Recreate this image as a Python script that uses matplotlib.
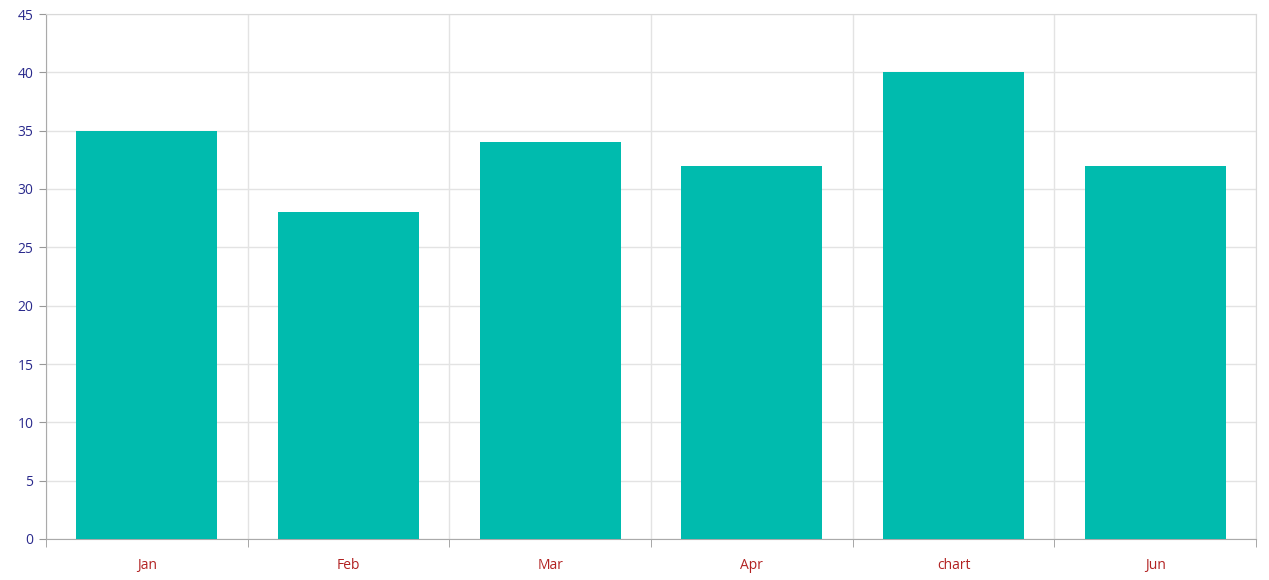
import numpy as np
import matplotlib
matplotlib.use("Agg")
import matplotlib.pyplot as plt

# chart data
months = ["Jan", "Feb", "Mar", "Apr", "chart", "Jun"]
values = [35, 28, 34, 32, 40, 32]
y_ticks = list(range(0, 50, 5))

plt.rcParams['font.family'] = ['Open Sans', 'DejaVu Sans']

fig = plt.figure(figsize=(12.69, 5.80), dpi=100)
ax = fig.add_axes([46 / 1269, 41 / 580, 1210 / 1269, 525 / 580])

x = np.arange(len(months))
ax.bar(x, values, width=0.7, color="#00bbae", zorder=3)

ax.set_xlim(-0.5, len(months) - 0.5)
ax.set_ylim(0, 45)
ax.set_yticks(y_ticks)
ax.set_yticklabels([str(v) for v in y_ticks], color="#2a2a8c", fontsize=10)

# category labels in the middle, ticks on the boundaries
ax.set_xticks(x)
ax.set_xticklabels(months, color="#b22222", fontsize=10)
ax.tick_params(axis="x", length=0, pad=14)
ax.set_xticks(np.arange(-0.5, len(months)), minor=True)
ax.tick_params(axis="x", which="minor", length=6, color="#999999")
ax.tick_params(axis="y", length=5, color="#999999", pad=4)

ax.grid(axis="y", color="#e3e3e3", linewidth=1, zorder=0)
ax.grid(axis="x", which="minor", color="#e3e3e3", linewidth=1, zorder=0)
ax.grid(axis="x", which="major", visible=False)

for side in ["top", "right"]:
    ax.spines[side].set_color("#d9d9d9")
for side in ["left", "bottom"]:
    ax.spines[side].set_color("#aaaaaa")

fig.savefig("out.png", dpi=100)
